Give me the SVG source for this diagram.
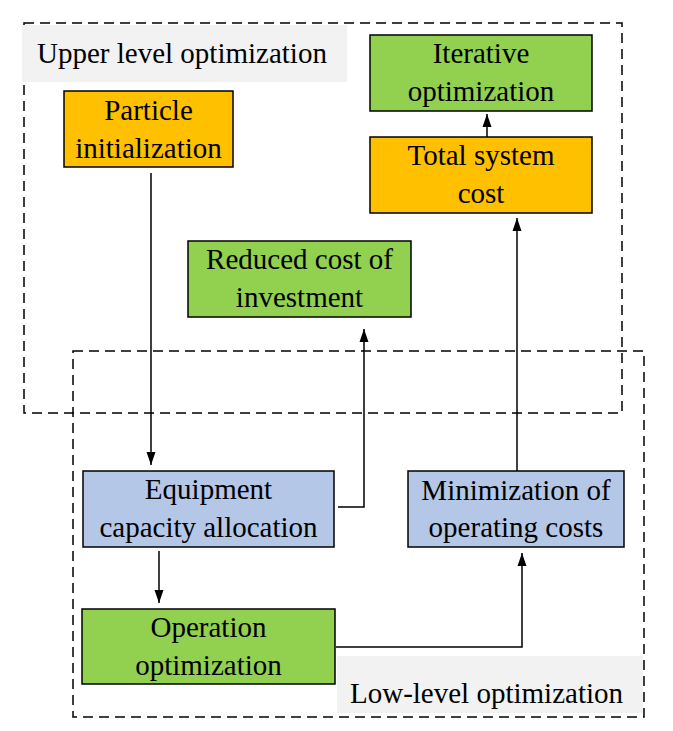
<svg xmlns="http://www.w3.org/2000/svg" width="673" height="731" viewBox="0 0 673 731">
<style>
.t{font-size:29px;fill:#000;}
.c{text-anchor:middle;}
.box{stroke:#000;stroke-width:1.5;}
.dash{fill:none;stroke:#000;stroke-width:1.5;stroke-dasharray:10 6;}
.lab{fill:#F2F2F2;}
.con{fill:none;stroke:#000;stroke-width:1.5;}
</style>
<defs>
<marker id="ah" markerWidth="14" markerHeight="12" refX="13" refY="6" orient="auto" markerUnits="userSpaceOnUse">
<path d="M0,1.5 L13,6 L0,10.5 Z" fill="#000"/>
</marker>
</defs>
<rect width="673" height="731" fill="#fff"/>
<g font-family="Liberation Serif, serif">
<g id="upper-level">
<rect class="dash" x="24" y="23" width="598" height="390"/>
<rect class="lab" x="22" y="25" width="325" height="57"/>
<text class="t" x="37" y="63">Upper level optimization</text>
</g>
<g id="low-level">
<rect class="dash" x="73" y="351" width="571" height="366"/>
<rect class="lab" x="337" y="656" width="306" height="57"/>
<text class="t" x="350" y="703">Low-level optimization</text>
</g>
<g id="particle">
<rect class="box" x="64" y="91" width="169" height="76" fill="#FFC000"/>
<text class="t c" x="148.5" y="120">Particle</text>
<text class="t c" x="148.5" y="158">initialization</text>
</g>
<g id="iterative">
<rect class="box" x="370" y="35" width="222" height="76" fill="#92D050"/>
<text class="t c" x="481" y="63">Iterative</text>
<text class="t c" x="481" y="101">optimization</text>
</g>
<g id="total">
<rect class="box" x="370" y="137" width="222" height="76" fill="#FFC000"/>
<text class="t c" x="481" y="165">Total system</text>
<text class="t c" x="481" y="203">cost</text>
</g>
<g id="reduced">
<rect class="box" x="188" y="241" width="223" height="76" fill="#92D050"/>
<text class="t c" x="299.5" y="269">Reduced cost of</text>
<text class="t c" x="299.5" y="307">investment</text>
</g>
<g id="equipment">
<rect class="box" x="83" y="471" width="251" height="76" fill="#B4C7E7"/>
<text class="t c" x="208.5" y="499">Equipment</text>
<text class="t c" x="208.5" y="537">capacity allocation</text>
</g>
<g id="minimization">
<rect class="box" x="408" y="471" width="216" height="76" fill="#B4C7E7"/>
<text class="t c" x="516" y="500">Minimization of</text>
<text class="t c" x="516" y="537">operating costs</text>
</g>
<g id="operation">
<rect class="box" x="82" y="609" width="253" height="75" fill="#92D050"/>
<text class="t c" x="208.5" y="637">Operation</text>
<text class="t c" x="208.5" y="675">optimization</text>
</g>
</g>
<g id="connectors">
<path class="con" d="M151,173 L151,465" marker-end="url(#ah)"/>
<path class="con" d="M159,551 L159,603" marker-end="url(#ah)"/>
<path class="con" d="M336,647 L522,647 L522,553" marker-end="url(#ah)"/>
<path class="con" d="M338,507 L364,507 L364,329" marker-end="url(#ah)"/>
<path class="con" d="M517,471 L517,218" marker-end="url(#ah)"/>
<path class="con" d="M487,137 L487,114" marker-end="url(#ah)"/>
</g>
</svg>
